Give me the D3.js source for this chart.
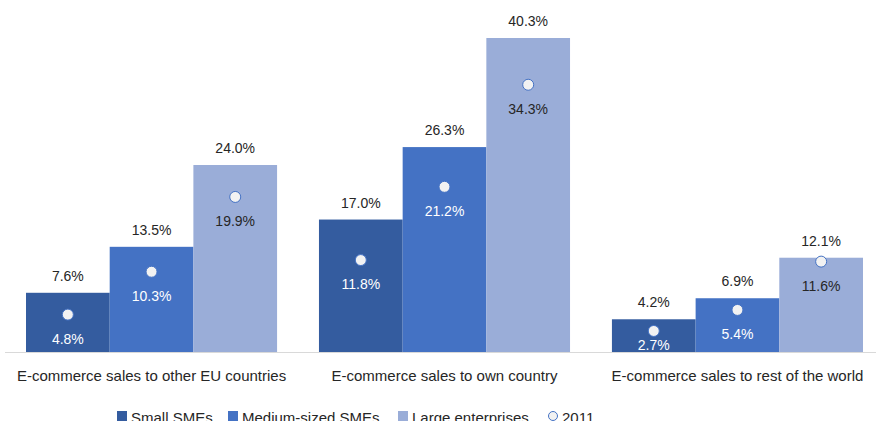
<!DOCTYPE html>
<html><head><meta charset="utf-8">
<script src="https://cdn.jsdelivr.net/npm/d3@7"></script>
<style>body{margin:0;background:#fff}svg{display:block}text{font-family:"Liberation Sans",Arial,sans-serif}</style>
</head><body><svg id="c" width="876" height="421"></svg>
<script>
const categories = ["E-commerce sales to other EU countries","E-commerce sales to own country","E-commerce sales to rest of the world"];
const seriesNames = ["Small SMEs","Medium-sized SMEs","Large enterprises"];
const small = [7.6, 17.0, 4.2];
const medium = [13.5, 26.3, 6.9];
const large = [24.0, 40.3, 12.1];
const small2011 = [4.8, 11.8, 2.7];
const medium2011 = [10.3, 21.2, 5.4];
const large2011 = [19.9, 34.3, 11.6];
const markerName = "2011";

const colors = ["#345c9f","#4472c4","#9aadd8"];
const innerText = ["#ffffff","#ffffff","#262626"];
const svg = d3.select("#c");
const baseY = 352;
const y = d3.scaleLinear().domain([0, 40.3]).range([baseY, 38]);
const x0 = d3.scaleBand().domain(categories).range([5, 884]).paddingInner(0.143).paddingOuter(0.0717);
const x1 = d3.scaleBand().domain(seriesNames).range([0, x0.bandwidth()]);
const vals = [small, medium, large];
const vals11 = [small2011, medium2011, large2011];
const fmt = v => v.toFixed(1) + "%";

// axis line
svg.append("line").attr("x1",5).attr("x2",876).attr("y1",baseY+0.5).attr("y2",baseY+0.5).attr("stroke","#d9d9d9").attr("stroke-width",1);

categories.forEach((c, ci) => {
  const g = svg.append("g").attr("transform", `translate(${x0(c)},0)`);
  seriesNames.forEach((s, si) => {
    const v = vals[si][ci], v11 = vals11[si][ci];
    const bx = x1(s), bw = x1.bandwidth();
    g.append("rect").attr("x", bx).attr("y", y(v)).attr("width", bw).attr("height", baseY - y(v)).attr("fill", colors[si]);
    g.append("text").attr("x", bx + bw/2).attr("y", y(v) - 12).attr("text-anchor","middle")
      .attr("font-size",14).attr("fill","#262626").text(fmt(v));
    g.append("circle").attr("cx", bx + bw/2).attr("cy", y(v11)).attr("r", 5.5)
      .attr("fill","#f2f2f2").attr("stroke","#4472c4").attr("stroke-width",1);
    g.append("text").attr("x", bx + bw/2).attr("y", Math.min(y(v11) + 29, baseY - 2)).attr("text-anchor","middle")
      .attr("font-size",14).attr("fill", innerText[si]).text(fmt(v11));
  });
  svg.append("text").attr("x", x0(c) + x0.bandwidth()/2).attr("y", 381).attr("text-anchor","middle")
    .attr("font-size",15).attr("fill","#262626").text(c);
});

// legend
const leg = svg.append("g");
const legItems = [
  {name: seriesNames[0], type:"rect", color: colors[0], x:117},
  {name: seriesNames[1], type:"rect", color: colors[1], x:228},
  {name: seriesNames[2], type:"rect", color: colors[2], x:398},
  {name: markerName, type:"circle", x:548}
];
legItems.forEach(it => {
  if (it.type === "rect") {
    leg.append("rect").attr("x", it.x).attr("y", 411).attr("width", 10).attr("height", 10).attr("fill", it.color);
  } else {
    leg.append("circle").attr("cx", it.x + 5).attr("cy", 416).attr("r", 4.5).attr("fill","#f2f2f2").attr("stroke","#4472c4").attr("stroke-width",1);
  }
  leg.append("text").attr("x", it.x + 14).attr("y", 423).attr("font-size",15).attr("fill","#262626").text(it.name);
});
</script></body></html>
